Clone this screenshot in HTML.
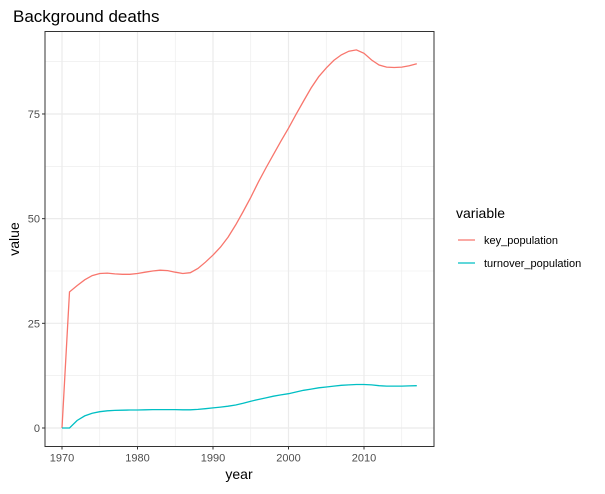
<!DOCTYPE html>
<html><head><meta charset="utf-8"><style>
body{margin:0;background:#fff;font-family:"Liberation Sans",Arial,sans-serif}
svg text{font-family:"Liberation Sans",Arial,sans-serif}
</style></head><body>
<svg width="605" height="489" id="chart" xmlns="http://www.w3.org/2000/svg"></svg>
<script>
const years=[1970,1971,1972,1973,1974,1975,1976,1977,1978,1979,1980,1981,1982,1983,1984,1985,1986,1987,1988,1989,1990,1991,1992,1993,1994,1995,1996,1997,1998,1999,2000,2001,2002,2003,2004,2005,2006,2007,2008,2009,2010,2011,2012,2013,2014,2015,2016,2017];
const keyPop=[0,32.5,34,35.4,36.4,36.9,37,36.8,36.7,36.7,36.9,37.2,37.5,37.7,37.6,37.2,36.9,37.1,38.1,39.6,41.3,43.2,45.6,48.5,51.7,55.1,58.7,62.1,65.3,68.5,71.6,74.9,78.1,81.2,83.9,86,87.8,89.1,90,90.3,89.5,87.9,86.7,86.2,86.1,86.2,86.5,87];
const turnPop=[0,0,1.8,2.9,3.5,3.9,4.1,4.2,4.25,4.3,4.3,4.35,4.4,4.4,4.4,4.4,4.35,4.35,4.45,4.6,4.8,5,5.2,5.5,5.9,6.4,6.8,7.2,7.6,7.9,8.2,8.6,9,9.3,9.6,9.8,10,10.2,10.3,10.4,10.4,10.3,10.1,10,10,10,10.05,10.1];
const xTicks=[1970,1980,1990,2000,2010];
const yTicks=[0,25,50,75];
const xTickLabels=["1970","1980","1990","2000","2010"];
const yTickLabels=["0","25","50","75"];
const L=45,R=434,T=31.5,B=446.5;
const x=v=>62+(v-1970)*7.55;
const y=v=>428-v*4.187;
const s=document.getElementById('chart');const NS="http://www.w3.org/2000/svg";
function el(t,a,p){const e=document.createElementNS(NS,t);for(const k in a)e.setAttribute(k,a[k]);(p||s).appendChild(e);return e;}
let e;
e=el('text',{x:13,y:22,'font-size':17,fill:'#000'});e.textContent='Background deaths';


const g=el('g',{});


for(let v=1975;v<=2015;v+=10)el('line',{x1:x(v),x2:x(v),y1:T,y2:B,stroke:'#ebebeb','stroke-width':0.6},g);
for(let v=12.5;v<=87.5;v+=25)el('line',{x1:L,x2:R,y1:y(v),y2:y(v),stroke:'#ebebeb','stroke-width':0.6},g);
xTicks.forEach(v=>el('line',{x1:x(v),x2:x(v),y1:T,y2:B,stroke:'#ebebeb','stroke-width':1.2},g));
yTicks.forEach(v=>el('line',{x1:L,x2:R,y1:y(v),y2:y(v),stroke:'#ebebeb','stroke-width':1.2},g));
function line(data,color,name){const p=el('path',{d:data.map((v,i)=>(i?'L':'M')+x(years[i]).toFixed(1)+','+y(v).toFixed(1)).join(''),fill:'none',stroke:color,'stroke-width':1.3});

}
line(keyPop,'#f8766d','key-population-line');
line(turnPop,'#00bfc4','turnover-population-line');
e=el('rect',{x:L,y:T,width:R-L,height:B-T,fill:'none',stroke:'#333','stroke-width':1});


xTicks.forEach((v,i)=>{el('line',{x1:x(v),x2:x(v),y1:B,y2:B+3,stroke:'#333'});
const t=el('text',{x:x(v),y:B+15,'font-size':11,fill:'#4d4d4d','text-anchor':'middle'});t.textContent=xTickLabels[i];

});
yTicks.forEach((v,i)=>{el('line',{x1:L-3,x2:L,y1:y(v),y2:y(v),stroke:'#333'});
const t=el('text',{x:L-5,y:y(v)+4,'font-size':11,fill:'#4d4d4d','text-anchor':'end'});t.textContent=yTickLabels[i];

});
e=el('text',{x:239,y:479,'font-size':14,'text-anchor':'middle'});e.textContent='year';


e=el('text',{x:0,y:0,'font-size':14,'text-anchor':'middle',transform:'translate(19,239) rotate(-90)'});e.textContent='value';


e=el('text',{x:456,y:218,'font-size':14});e.textContent='variable';


[['key_population','#f8766d',240],['turnover_population','#00bfc4',263]].forEach(([n,c,yy])=>{
const lg=el('g',{});


el('line',{x1:458,x2:475,y1:yy,y2:yy,stroke:c,'stroke-width':1.3},lg);
const t=el('text',{x:484,y:yy+4,'font-size':11,fill:'#000'},lg);t.textContent=n;});
</script>
</body></html>
